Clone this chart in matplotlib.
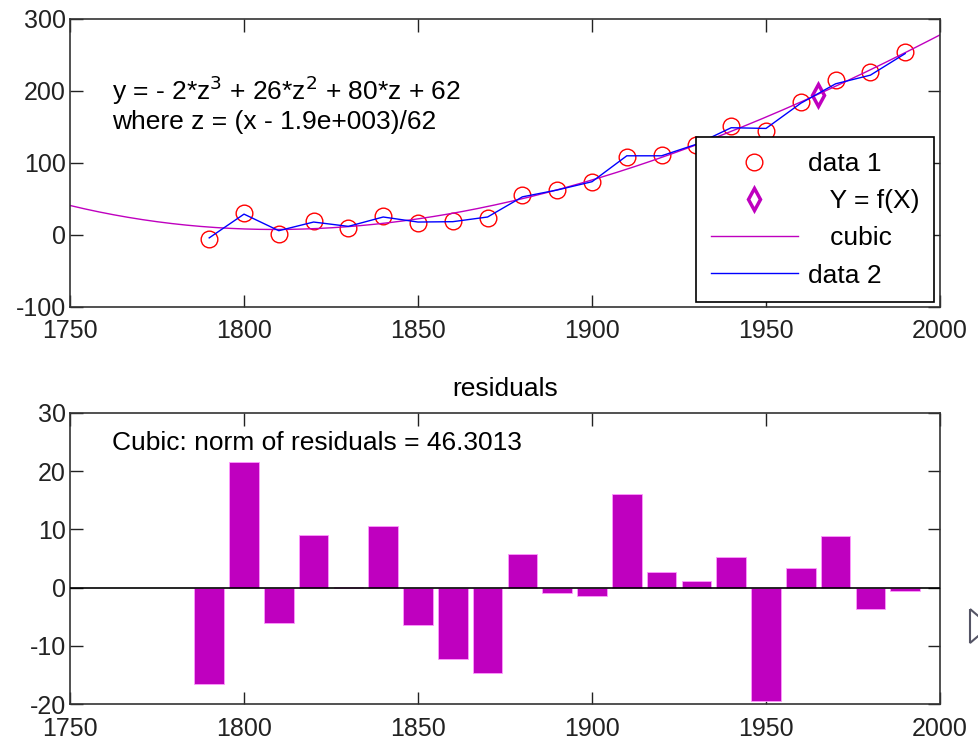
import numpy as np
import matplotlib
matplotlib.use("Agg")
import matplotlib.pyplot as plt
from matplotlib.patches import Polygon

plt.rcParams['font.family'] = ['Liberation Sans', 'DejaVu Sans']
plt.rcParams['axes.unicode_minus'] = False

# census-like data
years = [1790, 1800, 1810, 1820, 1830, 1840, 1850, 1860, 1870, 1880, 1890,
         1900, 1910, 1920, 1930, 1940, 1950, 1960, 1970, 1980, 1990]
data1 = [-6, 30, 2, 19, 10, 26, 16, 19, 23, 56, 63,
         74, 109, 111, 125, 151, 144, 185, 215, 226, 254]
data2 = [-4, 29, 6, 18, 12, 25, 18, 18.5, 25, 53, 62.5,
         74, 110, 110, 126, 149, 148, 183, 210, 222, 252]
residuals = [-16.6, 21.5, -6.0, 9.1, 0.1, 10.5, -6.4, -12.2, -14.6, 5.7, -0.9,
             -1.5, 16.0, 2.6, 1.2, 5.3, -19.5, 3.3, 8.8, -3.6, -0.5]
fx_point = (1965, 194)

MAG = '#BF00BF'

def main():
    fig = plt.figure(figsize=(9.79, 7.40), dpi=100)
    W, H = 979.0, 740.0
    ax1 = fig.add_axes([70 / W, 1 - 307 / H, 870 / W, 288 / H])
    ax2 = fig.add_axes([70 / W, 1 - 704 / H, 870 / W, 291 / H])

    # cubic fit on centred/scaled years, like the basic fitting tool
    x = np.array(years, dtype=float)
    mu, sd = x.mean(), x.std(ddof=1)
    coef = np.polyfit((x - mu) / sd, data1, 3)
    xx = np.linspace(1750, 2000, 300)
    yy = np.polyval(coef, (xx - mu) / sd)

    ax1.plot(years, data1, 'o', mfc='none', mec='red', ms=12, mew=1.0, label='data 1')
    ax1.plot(fx_point[0], fx_point[1], 'd', mfc='none', mec=MAG, ms=11, mew=2.5, label='   Y = f(X)')
    ax1.plot(xx, yy, color=MAG, lw=1.0, label='   cubic')
    ax1.plot(years, data2, color='blue', lw=1.0, label='data 2')

    ax1.set_xlim(1750, 2000)
    ax1.set_ylim(-100, 300)
    ax1.set_xticks([1750, 1800, 1850, 1900, 1950, 2000])
    ax1.set_yticks([-100, 0, 100, 200, 300])
    ax1.text(0.048, 0.753, r'y = - 2*z$^{3}$ + 26*z$^{2}$ + 80*z + 62',
             transform=ax1.transAxes, fontsize=19, va='center')
    ax1.text(0.048, 0.642, 'where z = (x - 1.9e+003)/62',
             transform=ax1.transAxes, fontsize=19, va='center')

    leg = ax1.legend(loc='lower right', bbox_to_anchor=(0.993, 0.017), fontsize=19,
                     handlelength=3.3, handletextpad=0.38, labelspacing=0.5,
                     borderpad=0.55, fancybox=False, edgecolor='black',
                     framealpha=1, borderaxespad=0)
    leg.get_frame().set_linewidth(1.2)

    ax2.bar(years, residuals, width=8.5, color=MAG, edgecolor='#ff99ff', linewidth=0.6, zorder=2)
    ax2.axhline(0, color='black', lw=1.2, zorder=3)
    ax2.set_xlim(1750, 2000)
    ax2.set_ylim(-20, 30)
    ax2.set_xticks([1750, 1800, 1850, 1900, 1950, 2000])
    ax2.set_yticks([-20, -10, 0, 10, 20, 30])
    ax2.set_title('residuals', fontsize=19, pad=12)
    ax2.text(0.048, 0.897, 'Cubic: norm of residuals = 46.3013',
             transform=ax2.transAxes, fontsize=19, va='center')

    for ax in (ax1, ax2):
        ax.tick_params(direction='in', length=9, width=1, labelsize=18,
                       top=True, right=True, colors='#222222')
        ax.tick_params(axis='x', pad=9)
        ax.tick_params(axis='y', pad=3)
        for s in ax.spines.values():
            s.set_linewidth(1.2)
            s.set_color('#333333')

    tri = Polygon([[970 / W, 1 - 609 / H], [990 / W, 1 - 626 / H], [970 / W, 1 - 643 / H]],
                  closed=True, fill=False, edgecolor='#555566', lw=1.5,
                  transform=fig.transFigure, figure=fig)
    fig.patches.append(tri)

    fig.savefig('out.png', dpi=100)

if __name__ == "__main__":
    main()
